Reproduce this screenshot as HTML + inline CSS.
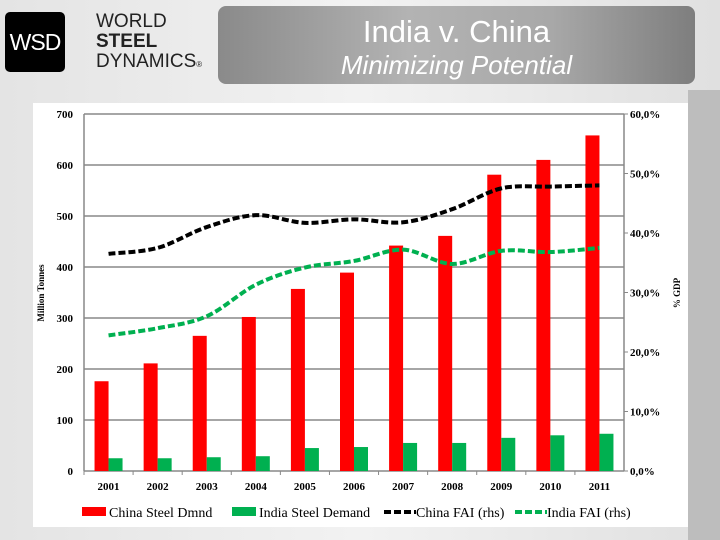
<!DOCTYPE html>
<html><head><meta charset="utf-8"><style>
body{margin:0;width:720px;height:540px;overflow:hidden;background:linear-gradient(90deg,#e4e4e4,#f2f2f2 50%,#e0e0e0);font-family:"Liberation Sans",sans-serif}
#strip{position:absolute;left:688px;top:90px;width:32px;height:450px;background:#bdbdbd}
#logo{position:absolute;left:5px;top:12px;width:60px;height:60px;background:#000;border-radius:5px;color:#fff;font-size:23px;line-height:60px;text-align:center;letter-spacing:-1px}
#brand{position:absolute;left:96px;top:12px;font-size:19px;line-height:20px;color:#222}
#banner{position:absolute;left:218px;top:6px;width:477px;height:78px;border-radius:8px;background:linear-gradient(90deg,#8a8a8a,#b3b3b3 40%,#a8a8a8 70%,#7e7e7e);color:#fff;text-align:center}
</style></head><body>
<div id="strip"></div>
<div id="logo">WSD</div>
<div id="brand">WORLD<br><b>STEEL</b><br>DYNAMICS<span style="font-size:8px">®</span></div>
<div id="banner"><div style="font-size:31px;margin-top:8px">India v. China</div><div style="font-size:26px;font-style:italic">Minimizing Potential</div></div>
<svg id="chart" width="720" height="540" style="position:absolute;left:0;top:0"></svg>
<script>
const years=["2001","2002","2003","2004","2005","2006","2007","2008","2009","2010","2011"];
const chinaDemand=[176,211,265,302,357,389,442,461,581,610,658];
const indiaDemand=[25,25,27,29,45,47,55,55,65,70,73];
const chinaFAI=[36.5,37.5,41,43,41.7,42.3,41.8,44,47.5,47.8,48];
const indiaFAI=[22.8,24,26,31.3,34.2,35.3,37.2,34.8,37,36.8,37.5];
const leftTicks=[0,100,200,300,400,500,600,700];
const rightTicks=[0,10,20,30,40,50,60];
const NS="http://www.w3.org/2000/svg",svg=document.getElementById('chart');
function mk(t,a,p){const e=document.createElementNS(NS,t);for(const k in a)e.setAttribute(k,a[k]);(p||svg).appendChild(e);return e;}
const X0=84,X1=624,Y0=471,Y1=114,bw=(X1-X0)/years.length;
const yL=v=>Y0-(v/700)*(Y0-Y1),yR=v=>Y0-(v/60)*(Y0-Y1),xc=i=>X0+bw*(i+0.5);
const panel=mk('rect',{x:33,y:103,width:655,height:424,fill:'#fff'});

const F='font-family:"Liberation Serif",serif;font-weight:bold;font-size:11px';
leftTicks.forEach(v=>{const g=mk('line',{x1:X0,x2:X1,y1:yL(v),y2:yL(v),stroke:'#888','stroke-width':1.5});

const t=mk('text',{x:73,y:yL(v)+4,'text-anchor':'end',style:F});t.textContent=v;
});
rightTicks.forEach(v=>{const t=mk('text',{x:630,y:yR(v)+4,style:F});t.textContent=v.toFixed(1).replace('.',',')+'%';

mk('line',{x1:X1,x2:X1+4,y1:yR(v),y2:yR(v),stroke:'#888'});});
mk('line',{x1:X0,x2:X0,y1:Y1,y2:Y0,stroke:'#888','stroke-width':1.5});
mk('line',{x1:X1,x2:X1,y1:Y1,y2:Y0,stroke:'#888','stroke-width':1.5});
years.forEach((y,i)=>{
const r=mk('rect',{x:xc(i)-14,y:yL(chinaDemand[i]),width:14,height:Y0-yL(chinaDemand[i]),fill:'#f00'});

const g=mk('rect',{x:xc(i),y:yL(indiaDemand[i]),width:14,height:Y0-yL(indiaDemand[i]),fill:'#00b050'});

mk('line',{x1:X0+bw*i,x2:X0+bw*i,y1:Y0,y2:Y0+4,stroke:'#888'});
const t=mk('text',{x:xc(i),y:490,'text-anchor':'middle',style:F});t.textContent=y;
});
function smooth(vals){const p=vals.map((v,i)=>[xc(i),yR(v)]);let d='M'+p[0];
for(let i=0;i<p.length-1;i++){const a=p[i-1]||p[i],b=p[i],c=p[i+1],e=p[i+2]||c;
d+=' C'+(b[0]+(c[0]-a[0])/6)+','+(b[1]+(c[1]-a[1])/6)+' '+(c[0]-(e[0]-b[0])/6)+','+(c[1]-(e[1]-b[1])/6)+' '+c;}return d;}
const l1=mk('path',{d:smooth(chinaFAI),fill:'none',stroke:'#000','stroke-width':4,'stroke-dasharray':'7,3'});

const l2=mk('path',{d:smooth(indiaFAI),fill:'none',stroke:'#00b050','stroke-width':4,'stroke-dasharray':'7,3'});

const ya=mk('text',{x:0,y:0,transform:'translate(44,293) rotate(-90)','text-anchor':'middle',style:F.replace('11px','9px')});ya.textContent='Million Tonnes';

const yb=mk('text',{x:0,y:0,transform:'translate(680,293) rotate(-90)','text-anchor':'middle',style:F.replace('11px','9px')});yb.textContent='% GDP';

const LF='font-family:"Liberation Serif",serif;font-size:14px';
[[82,'rect','#f00','China Steel Dmnd'],[232,'rect','#00b050','India Steel Demand'],[384,'line','#000','China FAI (rhs)'],[515,'line','#00b050','India FAI (rhs)']].forEach(([x,k,c,lab])=>{
if(k==='rect')mk('rect',{x:x,y:507,width:24,height:9,fill:c});
else mk('line',{x1:x,x2:x+32,y1:512,y2:512,stroke:c,'stroke-width':4,'stroke-dasharray':'7,3'});
const t=mk('text',{x:x+(k==='rect'?27:32),y:517,style:LF});t.textContent=lab;
});
</script>
</body></html>
